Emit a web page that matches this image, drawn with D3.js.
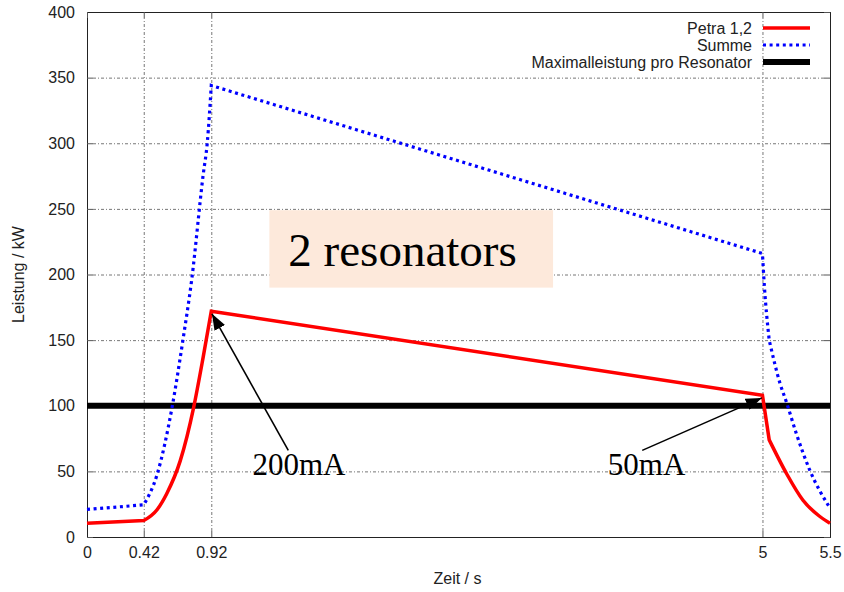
<!DOCTYPE html>
<html>
<head>
<meta charset="utf-8">
<script src="https://cdn.jsdelivr.net/npm/d3@7"></script>
<style>
  body { margin: 0; background: #fff; }
  svg { display: block; }
</style>
</head>
<body>
<div class="chart"></div>
<script>
// time (s), power (kW)
const petra = [
  [0, 10.5], [0.42, 12.5], [0.52, 21], [0.59, 33], [0.69, 58], [0.79, 99],
  [0.86, 137], [0.92, 172], [5.0, 108], [5.05, 74], [5.18, 48], [5.3, 28],
  [5.42, 16], [5.5, 10.5]
];
const summe = [
  [0, 21], [0.42, 24.5], [0.52, 48], [0.63, 99], [0.71, 150], [0.775, 196],
  [0.86, 276], [0.89, 300], [0.92, 344], [5.0, 216], [5.01, 198], [5.05, 150],
  [5.13, 117], [5.18, 102], [5.25, 79], [5.35, 51], [5.5, 22]
];
const maxLeistung = [[0, 100], [5.5, 100]];
// times where the curves have a corner
const corners = [0.42, 0.92, 5.0, 5.05];

const xTicks = [0, 0.42, 0.92, 5, 5.5];
const yTicks = [0, 50, 100, 150, 200, 250, 300, 350, 400];
const seriesNames = ['Petra 1,2', 'Summe', 'Maximalleistung pro Resonator'];

// annotations in data coords: [from, to]
const arrows = [
  [[1.49, 66], [0.925, 170]],
  [[4.11, 66], [4.995, 106]]
];
const labels = [
  {text: '200mA', t: 1.225, v: 47},
  {text: '50mA', t: 3.855, v: 47}
];
const boxLabel = {text: '2 resonators', t0: 1.35, t1: 3.45, v0: 249, v1: 190};

const width = 844;
const height = 592;
const margin = {top: 12, right: 14, bottom: 55, left: 87};
const sans = '"Liberation Sans", Arial, Helvetica, sans-serif';
const serif = '"Liberation Serif", "Times New Roman", serif';
const fs = 16;

const svg = d3.select('.chart')
  .append('svg')
  .attr('width', width)
  .attr('height', height)
  .attr('viewBox', [0, 0, width, height]);

const x = d3.scaleLinear()
  .domain([0, 5.5])
  .range([margin.left, width - margin.right]);

const y = d3.scaleLinear()
  .domain([0, 400])
  .range([height - margin.bottom, margin.top]);

svg.append('defs').append('marker')
  .attr('id', 'head')
  .attr('viewBox', '0 0 16 12')
  .attr('refX', 16)
  .attr('refY', 6)
  .attr('markerWidth', 16)
  .attr('markerHeight', 12)
  .attr('markerUnits', 'userSpaceOnUse')
  .attr('orient', 'auto')
  .append('path')
  .attr('d', 'M0,0L16,6L0,12Z')
  .attr('fill', '#000');

// grid
const grid = svg.append('g')
  .attr('stroke', '#777')
  .attr('stroke-width', 1)
  .attr('stroke-dasharray', '3,2,1,2');

grid.selectAll('.gy')
  .data(yTicks.filter(d => d > 0 && d < 400))
  .enter().append('line')
  .attr('x1', x(0) + 6).attr('x2', x(5.5) - 6)
  .attr('y1', d => y(d) + 0.5).attr('y2', d => y(d) + 0.5);

grid.selectAll('.gx')
  .data(xTicks.filter(d => d > 0 && d < 5.5))
  .enter().append('line')
  .attr('x1', d => x(d) + 0.5).attr('x2', d => x(d) + 0.5)
  .attr('y1', y(0) - 6).attr('y2', y(400) + 6);

// axes (ticks inward, gnuplot style)
const xAxis = g => g
  .attr('transform', `translate(0,${y(0)})`)
  .call(d3.axisBottom(x).tickValues(xTicks).tickSize(-6).tickPadding(10)
    .tickFormat(d => String(d)));

const yAxis = g => g
  .attr('transform', `translate(${x(0)},0)`)
  .call(d3.axisLeft(y).tickValues(yTicks).tickSize(-6).tickPadding(12));

const xTop = g => g
  .attr('transform', `translate(0,${y(400)})`)
  .call(d3.axisTop(x).tickValues(xTicks).tickSize(-6).tickFormat(''));

const yRight = g => g
  .attr('transform', `translate(${x(5.5)},0)`)
  .call(d3.axisRight(y).tickValues(yTicks).tickSize(-6).tickFormat(''));

[xAxis, yAxis, xTop, yRight].forEach(a => {
  svg.append('g').call(a)
    .call(g => g.selectAll('.domain').attr('stroke', '#222'))
    .call(g => g.selectAll('.tick line').attr('stroke', '#555'))
    .call(g => g.selectAll('text')
      .attr('font-family', sans).attr('font-size', fs).attr('fill', '#222'));
});

// lines: smooth between corners, straight where only two points
const line = d3.line().x(d => x(d[0])).y(d => y(d[1])).curve(d3.curveMonotoneX);

function cornerPath(data) {
  const pieces = [];
  let cur = [];
  data.forEach(d => {
    cur.push(d);
    if (corners.includes(d[0])) {
      pieces.push(cur);
      cur = [d];
    }
  });
  if (cur.length > 1) pieces.push(cur);
  return pieces.map((p, i) => {
    const s = line(p);
    return i === 0 ? s : 'L' + s.slice(1);
  }).join('');
}

svg.append('path')
  .datum(maxLeistung)
  .attr('d', line)
  .attr('fill', 'none')
  .attr('stroke', '#000')
  .attr('stroke-width', 6);

svg.append('path')
  .attr('d', cornerPath(summe))
  .attr('fill', 'none')
  .attr('stroke', '#0000ff')
  .attr('stroke-width', 3.2)
  .attr('stroke-dasharray', '3,3.6');

svg.append('path')
  .attr('d', cornerPath(petra))
  .attr('fill', 'none')
  .attr('stroke', '#ff0000')
  .attr('stroke-width', 3.5)
  .attr('stroke-linejoin', 'miter');

// axis titles
svg.append('text')
  .attr('x', (x(0) + x(5.5)) / 2 - 1)
  .attr('y', 584)
  .attr('text-anchor', 'middle')
  .attr('font-family', sans).attr('font-size', fs).attr('fill', '#222')
  .text('Zeit / s');

svg.append('text')
  .attr('transform', `translate(24,${(y(0) + y(400)) / 2}) rotate(-90)`)
  .attr('text-anchor', 'middle')
  .attr('font-family', sans).attr('font-size', fs).attr('fill', '#222')
  .text('Leistung / kW');

// legend
const legend = svg.append('g').attr('font-family', sans).attr('font-size', fs);
const legendStyles = [
  {stroke: '#ff0000', w: 3.5, dash: null},
  {stroke: '#0000ff', w: 3.2, dash: '3,3.6'},
  {stroke: '#000', w: 6, dash: null}
];
seriesNames.forEach((name, i) => {
  const yy = 28 + i * 17;
  legend.append('text')
    .attr('x', 752).attr('y', yy + 6)
    .attr('text-anchor', 'end').attr('fill', '#222')
    .text(name);
  legend.append('line')
    .attr('x1', 763).attr('x2', 810)
    .attr('y1', yy).attr('y2', yy)
    .attr('stroke', legendStyles[i].stroke)
    .attr('stroke-width', legendStyles[i].w)
    .attr('stroke-dasharray', legendStyles[i].dash);
});

// "2 resonators" box
svg.append('rect')
  .attr('x', x(boxLabel.t0)).attr('y', y(boxLabel.v0))
  .attr('width', x(boxLabel.t1) - x(boxLabel.t0))
  .attr('height', y(boxLabel.v1) - y(boxLabel.v0))
  .attr('fill', '#fde9db');
svg.append('text')
  .attr('x', x(boxLabel.t0) + 19).attr('y', y(boxLabel.v0) + 56)
  .attr('font-family', serif).attr('font-size', 47).attr('fill', '#000')
  .text(boxLabel.text);

// arrows and current labels
svg.selectAll('.arrow')
  .data(arrows)
  .enter().append('line')
  .attr('x1', d => x(d[0][0])).attr('y1', d => y(d[0][1]))
  .attr('x2', d => x(d[1][0])).attr('y2', d => y(d[1][1]))
  .attr('stroke', '#000')
  .attr('stroke-width', 1.6)
  .attr('marker-end', 'url(#head)');

svg.selectAll('.lbl')
  .data(labels)
  .enter().append('text')
  .attr('x', d => x(d.t)).attr('y', d => y(d.v))
  .attr('font-family', serif).attr('font-size', 31).attr('fill', '#000')
  .text(d => d.text);
</script>
</body>
</html>
